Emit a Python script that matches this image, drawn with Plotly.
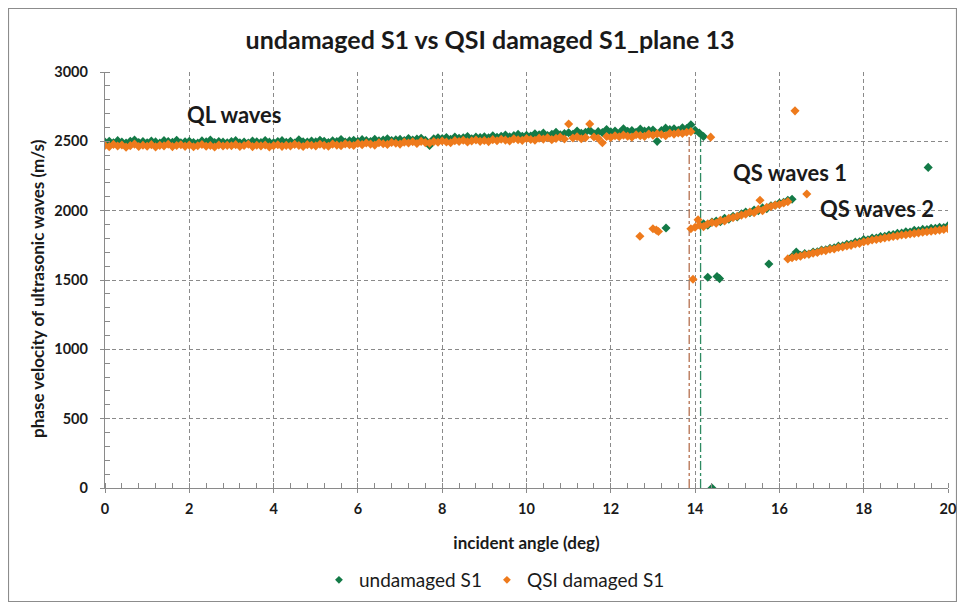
import plotly.graph_objects as go

# ---- data ----
# undamaged S1, QL branch
ql_und_x = [0.0, 0.1, 0.2, 0.3, 0.4, 0.5, 0.6, 0.7, 0.8, 0.9,
            1.0, 1.1, 1.2, 1.3, 1.4, 1.5, 1.6, 1.7, 1.8, 1.9,
            2.0, 2.1, 2.2, 2.3, 2.4, 2.5, 2.6, 2.7, 2.8, 2.9,
            3.0, 3.1, 3.2, 3.3, 3.4, 3.5, 3.6, 3.7, 3.8, 3.9,
            4.0, 4.1, 4.2, 4.3, 4.4, 4.5, 4.6, 4.7, 4.8, 4.9,
            5.0, 5.1, 5.2, 5.3, 5.4, 5.5, 5.6, 5.7, 5.8, 5.9,
            6.0, 6.1, 6.2, 6.3, 6.4, 6.5, 6.6, 6.7, 6.8, 6.9,
            7.0, 7.1, 7.2, 7.3, 7.4, 7.5, 7.6, 7.7, 7.8, 7.9,
            8.0, 8.1, 8.2, 8.3, 8.4, 8.5, 8.6, 8.7, 8.8, 8.9,
            9.0, 9.1, 9.2, 9.3, 9.4, 9.5, 9.6, 9.7, 9.8, 9.9,
            10.0, 10.1, 10.2, 10.3, 10.4, 10.5, 10.6, 10.7, 10.8, 10.9,
            11.0, 11.1, 11.2, 11.3, 11.4, 11.5, 11.6, 11.7, 11.8, 11.9,
            12.0, 12.1, 12.2, 12.3, 12.4, 12.5, 12.6, 12.7, 12.8, 12.9,
            13.0, 13.1, 13.2, 13.3, 13.4, 13.5, 13.6, 13.7, 13.8, 13.9,
            14.0, 14.1, 14.2]
ql_und_y = [2495, 2500, 2490, 2505, 2495, 2488, 2500, 2510, 2492, 2498,
            2490, 2502, 2496, 2488, 2505, 2499, 2493, 2508, 2490, 2497,
            2500, 2492, 2487, 2503, 2496, 2510, 2491, 2499, 2494, 2489,
            2498, 2505, 2490, 2495, 2488, 2502, 2497, 2492, 2506, 2494,
            2490, 2499, 2505, 2493, 2500, 2488, 2511, 2497, 2495, 2502,
            2496, 2508, 2500, 2492, 2504, 2499, 2513, 2495, 2503, 2507,
            2500, 2512, 2505, 2498, 2515, 2503, 2509, 2519, 2506, 2511,
            2514, 2505, 2520, 2510, 2516, 2522, 2508, 2470, 2518, 2525,
            2520, 2528, 2515, 2531, 2522, 2526, 2535, 2518, 2530, 2527,
            2533, 2525, 2540, 2529, 2537, 2545, 2532, 2541, 2550, 2536,
            2544, 2538, 2555, 2547, 2560, 2542, 2551, 2565, 2548, 2557,
            2562, 2550, 2575, 2558, 2566, 2580, 2555, 2570, 2563, 2585,
            2568, 2575, 2560, 2590, 2572, 2578, 2565, 2588, 2574, 2580,
            2582, 2500, 2577, 2595, 2585, 2590, 2579, 2598, 2592, 2620,
            2580, 2560, 2535]

# undamaged S1, QS branch 1
qs1_und_x = [14.2, 14.3, 14.4, 14.5, 14.6, 14.7, 14.8, 14.9, 15.0, 15.1, 15.2,
             15.3, 15.4, 15.5, 15.6, 15.7, 15.8, 15.9, 16.0, 16.1, 16.2, 16.3]
qs1_und_y = [1905, 1895, 1918, 1925, 1920, 1945, 1938, 1960, 1955, 1978, 1990,
             1985, 2005, 2000, 2020, 2015, 2035, 2040, 2055, 2060, 2075, 2082]

# undamaged S1, QS branch 2
qs2_und_x = [16.3, 16.4, 16.5, 16.6, 16.7, 16.8, 16.9, 17.0, 17.1, 17.2,
             17.3, 17.4, 17.5, 17.6, 17.7, 17.8, 17.9, 18.0, 18.1, 18.2,
             18.3, 18.4, 18.5, 18.6, 18.7, 18.8, 18.9, 19.0, 19.1, 19.2,
             19.3, 19.4, 19.5, 19.6, 19.7, 19.8, 19.9, 20.0]
qs2_und_y = [1668, 1702, 1678, 1690, 1688, 1702, 1704, 1716, 1718, 1728,
             1733, 1744, 1746, 1758, 1760, 1773, 1776, 1792, 1790, 1803,
             1803, 1813, 1816, 1825, 1828, 1836, 1838, 1848, 1846, 1858,
             1856, 1865, 1864, 1873, 1872, 1880, 1878, 1890]

# undamaged S1, scattered points
out_und_x = [13.31, 14.3, 14.52, 14.58, 14.4, 15.75, 19.53]
out_und_y = [1875, 1520, 1525, 1510, 0, 1615, 2312]

# QSI damaged S1, QL branch
ql_dam_x = ql_und_x[:140]
ql_dam_y = [2470, 2462, 2478, 2466, 2474, 2458, 2469, 2480, 2463, 2472,
            2465, 2476, 2460, 2471, 2467, 2479, 2462, 2470, 2475, 2464,
            2473, 2461, 2468, 2477, 2465, 2470, 2459, 2474, 2466, 2471,
            2468, 2476, 2463, 2470, 2479, 2462, 2472, 2467, 2474, 2460,
            2469, 2475, 2464, 2471, 2466, 2478, 2470, 2463, 2476, 2472,
            2467, 2479, 2471, 2465, 2480, 2473, 2469, 2482, 2475, 2470,
            2484, 2476, 2488, 2480, 2473, 2490, 2483, 2478, 2492, 2486,
            2480, 2494, 2488, 2497, 2484, 2500, 2491, 2487, 2498, 2493,
            2502, 2495, 2490, 2505, 2499, 2508, 2496, 2503, 2510, 2500,
            2506, 2498, 2512, 2504, 2515, 2509, 2502, 2518, 2511, 2507,
            2520, 2513, 2508, 2523, 2516, 2526, 2512, 2521, 2530, 2517,
            2625, 2524, 2533, 2519, 2527, 2625, 2531, 2522, 2490, 2535,
            2528, 2540, 2533, 2545, 2537, 2530, 2548, 2541, 2536, 2552,
            2544, 2555, 2549, 2540, 2558, 2552, 2561, 2556, 2565, 2570]

# QSI damaged S1, QS branch 1
qs1_dam_x = [13.9, 14.0, 14.07, 14.1, 14.2, 14.3, 14.4, 14.5, 14.6, 14.7, 14.8,
             14.9, 15.0, 15.1, 15.2, 15.3, 15.4, 15.5, 15.54, 15.6, 15.7, 15.8,
             15.9, 16.0, 16.1, 16.2]
qs1_dam_y = [1870, 1880, 1935, 1895, 1885, 1905, 1915, 1910, 1930, 1925, 1945,
             1950, 1960, 1968, 1975, 1990, 1985, 2010, 2075, 2000, 2025, 2030,
             2040, 2045, 2055, 2065]

# QSI damaged S1, QS branch 2
qs2_dam_x = [16.2, 16.3, 16.4, 16.5, 16.6, 16.7, 16.8, 16.9, 17.0, 17.1,
             17.2, 17.3, 17.4, 17.5, 17.6, 17.7, 17.8, 17.9, 18.0, 18.1,
             18.2, 18.3, 18.4, 18.5, 18.6, 18.7, 18.8, 18.9, 19.0, 19.1,
             19.2, 19.3, 19.4, 19.5, 19.6, 19.7, 19.8, 19.9, 20.0]
qs2_dam_y = [1652, 1660, 1668, 1672, 1682, 1686, 1694, 1698, 1710, 1712,
             1722, 1724, 1734, 1738, 1746, 1750, 1760, 1764, 1775, 1780,
             1788, 1792, 1798, 1804, 1808, 1814, 1818, 1824, 1826, 1832,
             1836, 1840, 1844, 1848, 1852, 1856, 1860, 1864, 1870]

# QSI damaged S1, scattered points
out_dam_x = [12.69, 13.0, 13.08, 13.13, 13.95, 14.37, 16.37, 16.65]
out_dam_y = [1815, 1870, 1860, 1850, 1505, 2530, 2720, 2120]

# dash-dot markers of the critical angles
crit_x = [13.86, 14.13]
crit_top = [2560, 2535]

labels = ["QL waves", "QS waves 1", "QS waves 2"]
label_x = [3.08, 16.25, 18.32]
label_y = [2690, 2272, 2019]

GREEN = "#137a47"
ORANGE = "#ee7a1c"
FONT = "Lato"
INK = "#1a1a1a"

und_x = ql_und_x + qs1_und_x + qs2_und_x + out_und_x
und_y = ql_und_y + qs1_und_y + qs2_und_y + out_und_y
dam_x = ql_dam_x + qs1_dam_x + qs2_dam_x + out_dam_x
dam_y = ql_dam_y + qs1_dam_y + qs2_dam_y + out_dam_y

fig = go.Figure()

# critical angle lines (behind the points)
for cx, ct, col in zip(crit_x, crit_top, ["#b5704f", "#2e8b62"]):
    fig.add_trace(go.Scatter(x=[cx, cx], y=[0, ct], mode="lines",
                             line=dict(color=col, width=1.3, dash="dashdot"),
                             showlegend=False, hoverinfo="skip"))

fig.add_trace(go.Scatter(x=und_x, y=und_y, mode="markers", name="undamaged S1",
                         marker=dict(symbol="diamond", size=7, color=GREEN),
                         showlegend=False))
fig.add_trace(go.Scatter(x=dam_x, y=dam_y, mode="markers", name="QSI damaged S1",
                         marker=dict(symbol="diamond", size=7, color=ORANGE),
                         showlegend=False))

# legend entries with the small markers of the reference
for name, col in [("undamaged S1", GREEN), ("QSI damaged S1", ORANGE)]:
    fig.add_trace(go.Scatter(x=[None], y=[None], mode="markers", name=name,
                             marker=dict(symbol="diamond", size=6, color=col)))

for t, lx, ly in zip(labels, label_x, label_y):
    fig.add_annotation(x=lx, y=ly, text="<b>" + t + "</b>", showarrow=False,
                       font=dict(family=FONT, size=22, color=INK))

# y axis title, placed like the reference (slightly below the plot centre)
fig.add_annotation(xref="paper", yref="paper", x=-0.0795, y=0.481,
                   xanchor="center", yanchor="middle",
                   text="<b>phase velocity of ultrasonic waves (m/s)</b>",
                   textangle=-90, showarrow=False,
                   font=dict(family=FONT, size=17, color=INK))

# grey frame round the whole chart
fig.add_shape(type="rect", xref="paper", yref="paper",
              x0=-0.1145, x1=1.0101, y0=-0.2728, y1=1.1526,
              line=dict(color="#8c8c8c", width=1.2), layer="below")

fig.update_layout(
    width=949, height=594,
    margin=dict(l=97, r=9, t=64, b=114),
    plot_bgcolor="white", paper_bgcolor="white",
    font=dict(family=FONT, size=12, color=INK),
    title=dict(text="<b>undamaged S1 vs QSI damaged S1_plane 13</b>",
               x=0.508, xanchor="center", y=0.946, yanchor="middle",
               font=dict(family=FONT, size=25, color=INK)),
    legend=dict(orientation="h", x=0.462, xanchor="center",
                yref="container", y=0.037, yanchor="middle",
                font=dict(family=FONT, size=19, color=INK),
                itemwidth=30),
    xaxis=dict(range=[0, 20], dtick=2, showgrid=True, gridcolor="#8a8a8a",
               griddash="4px,3px", gridwidth=1, zeroline=False, automargin=False,
               showline=True, linecolor="#8a8a8a", linewidth=1.3,
               ticks="outside", ticklen=4, tickcolor="#8a8a8a",
               ticklabelstandoff=3,
               tickfont=dict(family=FONT, size=14.5, color=INK),
               tickprefix="<b>", ticksuffix="</b>",
               minor=dict(dtick=0.4, ticks="inside", ticklen=5, tickcolor="#8a8a8a", showgrid=False),
               title=dict(text="<b>incident angle (deg)</b>", standoff=21,
                          font=dict(family=FONT, size=17, color=INK))),
    yaxis=dict(range=[0, 3000], dtick=500, showgrid=True, gridcolor="#8a8a8a",
               griddash="4px,3px", gridwidth=1, zeroline=False, automargin=False,
               showline=True, linecolor="#8a8a8a", linewidth=1.3,
               ticks="outside", ticklen=4, tickcolor="#8a8a8a",
               ticklabelstandoff=9,
               tickfont=dict(family=FONT, size=14.5, color=INK),
               tickprefix="<b>", ticksuffix="</b>",
               minor=dict(dtick=100, ticks="inside", ticklen=5, tickcolor="#8a8a8a", showgrid=False)),
)

fig.write_html("out.html")
